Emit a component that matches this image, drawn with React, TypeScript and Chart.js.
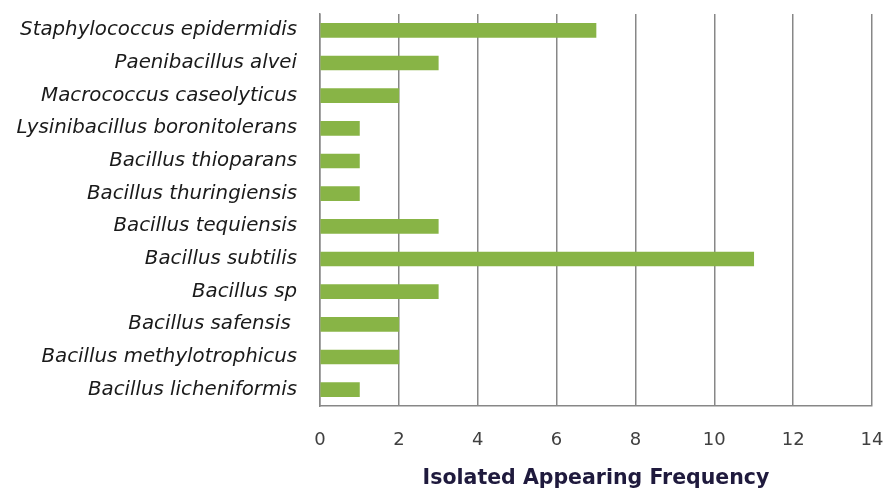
import React, { useEffect, useRef } from "react";
import { Chart, registerables } from "chart.js";

Chart.register(...registerables);

const categories = [
  "Staphylococcus epidermidis",
  "Paenibacillus alvei",
  "Macrococcus caseolyticus",
  "Lysinibacillus boronitolerans",
  "Bacillus thioparans",
  "Bacillus thuringiensis",
  "Bacillus tequiensis",
  "Bacillus subtilis",
  "Bacillus sp",
  "Bacillus safensis ",
  "Bacillus methylotrophicus",
  "Bacillus licheniformis",
];
const frequencies = [7, 3, 2, 1, 1, 1, 3, 11, 3, 2, 2, 1];
const axisTitle = "Isolated Appearing Frequency";
const xMin = 0;
const xMax = 14;
const xStep = 2;

export default function App() {
  const ref = useRef<HTMLCanvasElement | null>(null);
  useEffect(() => {
    const canvas = ref.current;
    if (!canvas) return;
    const chart = new Chart(canvas, {
      type: "bar",
      data: {
        labels: categories,
        datasets: [
          {
            data: frequencies,
            backgroundColor: "#88b446",
            borderWidth: 0,
            barThickness: 14,
          },
        ],
      },
      options: {
        indexAxis: "y",
        animation: false,
        responsive: false,
        maintainAspectRatio: false,
        layout: { padding: { top: 14, right: 18, left: 0, bottom: 0 } },
        plugins: { legend: { display: false }, tooltip: { enabled: false } },
        scales: {
          x: {
            min: xMin,
            max: xMax,
            ticks: {
              stepSize: xStep,
              padding: 24,
              color: "#404040",
              font: { family: "DejaVu Sans", size: 18 },
            },
            grid: { color: "#878787", lineWidth: 1.5, drawTicks: false },
            border: { color: "#878787", width: 1.5 },
            title: {
              display: true,
              text: axisTitle,
              color: "#1f1a3d",
              font: { family: "DejaVu Sans", size: 20.5, weight: "bold" },
              padding: { top: 0, bottom: 1 },
            },
            afterFit: (s: any) => {
              s.height = 86;
              s.paddingLeft = 0;
              s.paddingRight = 0;
            },
          },
          y: {
            ticks: {
              padding: 23,
              color: "#1a1a1a",
              font: { family: "DejaVu Sans", size: 19.8, style: "italic" },
            },
            grid: { display: false, drawTicks: false },
            border: { color: "#878787", width: 1.5 },
            afterFit: (s: any) => {
              s.width = 320;
              s.paddingTop = 0;
              s.paddingBottom = 0;
            },
          },
        },
      },
    });
    return () => chart.destroy();
  }, []);
  return (
    <div style={{ position: "fixed", left: 0, top: 0, width: 890, height: 492, background: "#fff" }}>
      <canvas ref={ref} width={890} height={492} style={{ width: 890, height: 492 }} />
    </div>
  );
}
